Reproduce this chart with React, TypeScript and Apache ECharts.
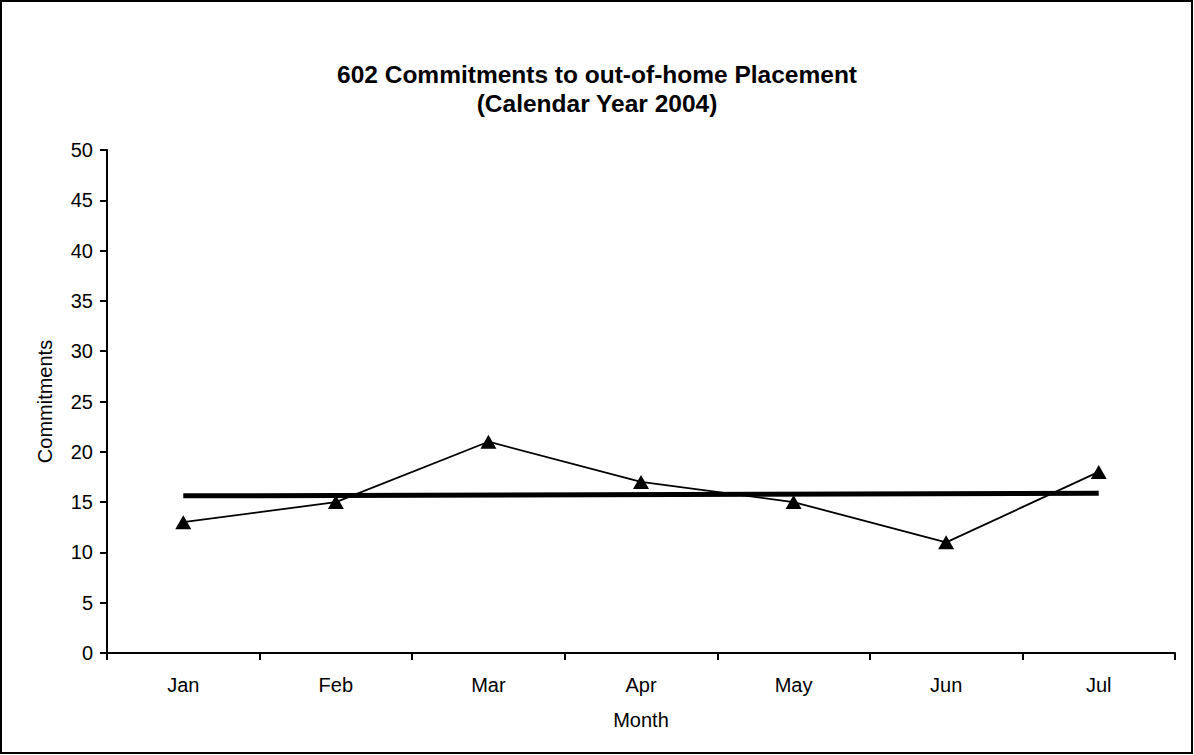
import React, { useEffect, useRef } from "react";
import * as echarts from "echarts";

const titleLines = ["602 Commitments to out-of-home Placement", "(Calendar Year 2004)"];
const months = ["Jan", "Feb", "Mar", "Apr", "May", "Jun", "Jul"];
const commitments = [13, 15, 21, 17, 15, 11, 18];
const trendValues = [15.62, null, null, null, null, null, 15.88];
const yTicks = { min: 0, max: 50, interval: 5 };
const xAxisName = "Month";
const yAxisName = "Commitments";

const FONT = '"Liberation Sans", Arial, Helvetica, sans-serif';

export default function App() {
  const ref = useRef<HTMLDivElement>(null);

  useEffect(() => {
    if (!ref.current) return;
    const chart = echarts.init(ref.current, null, { renderer: "svg" });
    chart.setOption({
      animation: false,
      backgroundColor: "#ffffff",
      title: {
        text: titleLines.join("\n"),
        left: "center",
        top: 55,
        textStyle: {
          fontFamily: FONT,
          fontSize: 24.5,
          fontWeight: "bold",
          color: "#000",
          lineHeight: 29,
        },
      },
      graphic: [
        {
          type: "rect",
          shape: { x: 1, y: 1, width: 1191, height: 752 },
          style: { fill: "none", stroke: "#000", lineWidth: 2 },
          silent: true,
          z: 100,
        },
      ],
      grid: { left: 107, right: 19, top: 150, bottom: 102, containLabel: false },
      xAxis: {
        type: "category",
        data: months,
        boundaryGap: true,
        name: xAxisName,
        nameLocation: "middle",
        nameGap: 57,
        nameTextStyle: { fontFamily: FONT, fontSize: 20, color: "#000" },
        axisLine: { show: true, lineStyle: { color: "#000", width: 2 } },
        axisTick: { show: true, length: 7, lineStyle: { color: "#000", width: 2 } },
        axisLabel: { fontFamily: FONT, fontSize: 20, color: "#000", margin: 22 },
        splitLine: { show: false },
      },
      yAxis: {
        type: "value",
        min: yTicks.min,
        max: yTicks.max,
        interval: yTicks.interval,
        name: yAxisName,
        nameLocation: "middle",
        nameGap: 52,
        nameRotate: 90,
        nameTextStyle: { fontFamily: FONT, fontSize: 20, color: "#000" },
        axisLine: { show: true, lineStyle: { color: "#000", width: 2 } },
        axisTick: { show: true, length: 7, lineStyle: { color: "#000", width: 2 } },
        axisLabel: { fontFamily: FONT, fontSize: 20, color: "#000", margin: 14 },
        splitLine: { show: false },
      },
      series: [
        {
          name: "Commitments",
          type: "line",
          data: commitments,
          symbol: "triangle",
          symbolSize: [16, 14],
          itemStyle: { color: "#000" },
          lineStyle: { color: "#000", width: 1.8 },
          z: 3,
        },
        {
          name: "Trend",
          type: "line",
          data: trendValues,
          connectNulls: true,
          showSymbol: false,
          symbol: "none",
          lineStyle: { color: "#000", width: 5 },
          z: 2,
        },
      ],
    });
    return () => chart.dispose();
  }, []);

  return (
    <div
      ref={ref}
      style={{ position: "absolute", left: 0, top: 0, width: 1194, height: 755 }}
    />
  );
}
